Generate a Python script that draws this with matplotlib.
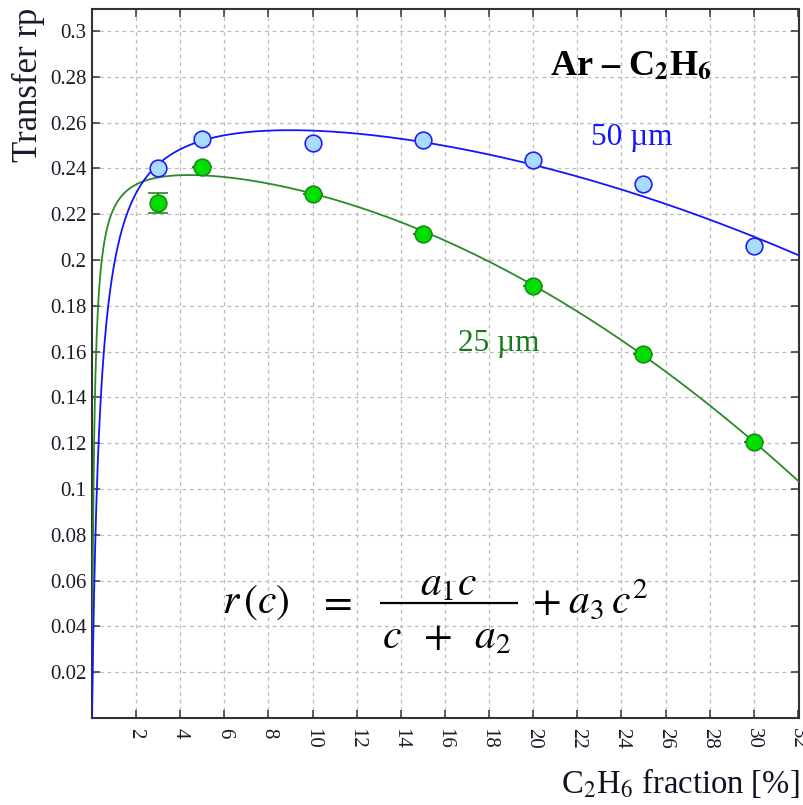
import numpy as np
import matplotlib
matplotlib.use("Agg")
import matplotlib.pyplot as plt

plt.rcParams['font.family'] = ['Liberation Serif', 'DejaVu Serif']
plt.rcParams['mathtext.fontset'] = 'stix'

# measured transfer rate vs C2H6 fraction
frac = [3, 5, 10, 15, 20, 25, 30]
r_50um = [0.2400, 0.2528, 0.2512, 0.2525, 0.2437, 0.2332, 0.2061]
r_25um = [0.2249, 0.2406, 0.2287, 0.2114, 0.1887, 0.1588, 0.1205]
err_25um = [0.0044, 0, 0, 0, 0, 0, 0]

# fit parameters of r(c) = a1*c/(c+a2) + a3*c^2
fit_50um = (0.2731, 0.38, -0.0000661)
fit_25um = (0.2452, 0.10, -0.0001375)


def rate(c, a1, a2, a3):
    return a1 * c / (c + a2) + a3 * c ** 2


fig = plt.figure(figsize=(8.04, 8.05), dpi=100)
ax = fig.add_axes([92 / 804, 1 - 718 / 805, 707 / 804, 709 / 805])

c = np.linspace(0, 32.1, 2000)
ax.plot(c, rate(c, *fit_25um), color='#2a8a2a', lw=1.3, zorder=3)
ax.plot(c, rate(c, *fit_50um), color='#1414ff', lw=1.3, zorder=3)

ax.errorbar(frac, r_25um, yerr=err_25um, fmt='none', ecolor='#1f8a1f',
            elinewidth=1.2, capsize=7.5, capthick=1.2, zorder=4)
ax.plot(frac, r_25um, 'o', ms=12, mfc='#00e000', mec='#1a8a1a', mew=1.2, zorder=5)
ax.plot(frac, r_50um, 'o', ms=12, mfc='#aadcff', mec='#1e1eff', mew=1.2, zorder=5)

ax.set_xlim(0, 32.05)
ax.set_ylim(0, 0.3096)
ax.set_xticks(np.arange(2, 33, 2))
ax.set_yticks(np.arange(0.02, 0.301, 0.02))
ax.set_yticklabels(['%g' % round(v, 2) for v in np.arange(0.02, 0.301, 0.02)])
ax.tick_params(direction='in', length=6, width=1.1, top=True, right=True,
               labelsize=15, labelcolor='#1a1a2a', color='#333333')
ax.tick_params(axis='y', pad=4)
ax.tick_params(axis='x', pad=7)
for lab in ax.get_xticklabels():
    lab.set_rotation(270)
    lab.set_va('top')
ax.grid(True, ls=(0, (3, 3)), color='#bbbbbb', lw=0.9)
for s in ax.spines.values():
    s.set_color('#333333')
    s.set_linewidth(1.5)

ax.set_ylabel('Transfer rp', fontsize=25, color='#1a1a2a')
ax.yaxis.set_label_coords(-0.066, 0.893)
ax.set_xlabel(r'C$_2$H$_6$ fraction [%]', fontsize=23.5, loc='right', color='#111122')
ax.xaxis.set_label_coords(1.0, -0.068)

ax.text(24.43, 0.2808, r'Ar – C$_\mathbf{2}$H$_\mathbf{6}$', fontsize=26,
        fontweight='bold', ha='center', va='baseline')
ax.text(24.45, 0.2502, '50 µm', fontsize=22.5, color='#1414ff',
        ha='center', va='baseline')
ax.text(18.44, 0.1603, '25 µm', fontsize=22.5, color='#1a7a1a',
        ha='center', va='baseline')

# fit formula, assembled piece by piece
fs = 30
ax.text(5.89, 0.0459, r'$r\,(c)$', fontsize=fs, ha='left', va='baseline')
ax.text(10.99, 0.0459, r'$=$', fontsize=fs, ha='center', va='baseline')
ax.text(16.14, 0.0537, r'$a_1c$', fontsize=fs, ha='center', va='baseline')
ax.plot([13.06, 19.31], [0.0502, 0.0502], color='black', lw=1.6,
        solid_capstyle='butt')
ax.text(16.09, 0.0306, r'$c\;\;+\;\;a_2$', fontsize=fs, ha='center', va='baseline')
ax.text(19.95, 0.0459, r'$+\;a_3\,c^2$', fontsize=fs, ha='left', va='baseline')

fig.savefig('out.png', dpi=100)
